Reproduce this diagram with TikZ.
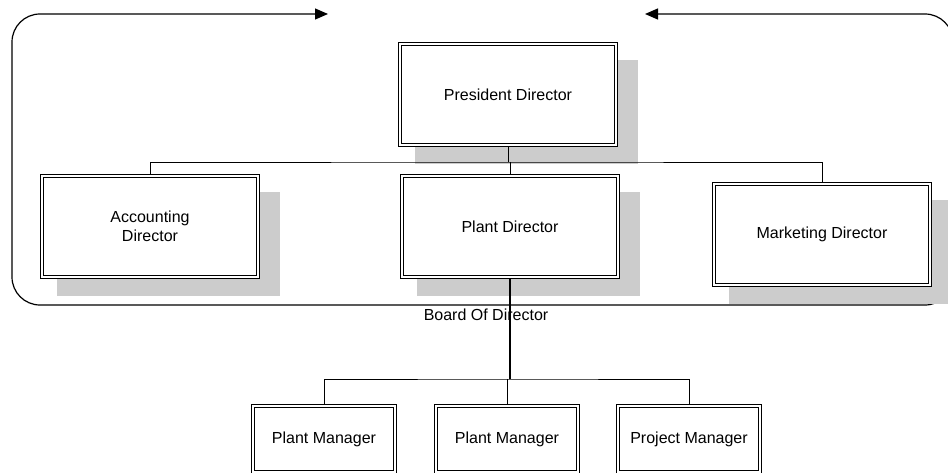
\documentclass[tikz,border=0pt]{standalone}
\usepackage{fontspec}
\setmainfont{Liberation Sans}
\usetikzlibrary{shadows,arrows.meta}
\begin{document}
\begin{tikzpicture}[x=1pt,y=-1pt,
  font=\fontsize{16}{19.5}\selectfont,
  unit/.style={draw, double, double distance=2.6pt, line width=0.8pt,
    fill=white, align=center, inner sep=0pt, outer sep=2.1pt},
  director/.style={unit, minimum width=216pt, minimum height=101pt,
    drop shadow={shadow xshift=18pt, shadow yshift=-17pt, shadow scale=1.03,
      fill=black!20, opacity=1}},
  manager/.style={unit, minimum width=142pt, minimum height=66pt},
  link/.style={line width=0.9pt},
  frameline/.style={line width=1.2pt, rounded corners=28pt,
    {Triangle[length=13pt,width=11pt]}-{Triangle[length=13pt,width=11pt]}}
]
\useasboundingbox (0,0) rectangle (948,473);
\clip (0,0) rectangle (948,473);

% board frame, open at the top with two arrows pointing inwards
\coordinate (fstart) at (328,14);
\coordinate (fend) at (645,14);
\draw[frameline] (fstart) -- (12,14) -- (12,305) -- (953,305) -- (953,14) -- (fend);
\node (bod) at (486,315) {Board Of Director};

% directors
\node[director] (pres)  at (508,94.5)  {President Director};
\node[director] (acc)   at (150,226.5) {Accounting\\Director};
\node[director] (plant) at (510,226.5) {Plant Director};
\node[director] (mkt)   at (822,234.5) {Marketing Director};

% managers
\node[manager] (pm1) at (324,439) {Plant Manager};
\node[manager] (pm2) at (507,439) {Plant Manager};
\node[manager] (prj) at (689,439) {Project Manager};

% reporting lines
\coordinate (bus) at (508,162);
\draw[link] (pres.south) -- (pres.south |- bus);
\draw[link] (acc.north) |- (bus) -| (mkt.north);
\draw[link] (plant.north) -- (plant.north |- bus);

\coordinate (bus2) at (509,379);
\draw[link, line width=1.3pt] (plant.south) -- (plant.south |- bus2);
\draw[link] (pm1.north) |- (bus2) -| (prj.north);
\draw[link] (pm2.north) -- (pm2.north |- bus2);
\end{tikzpicture}
\end{document}
